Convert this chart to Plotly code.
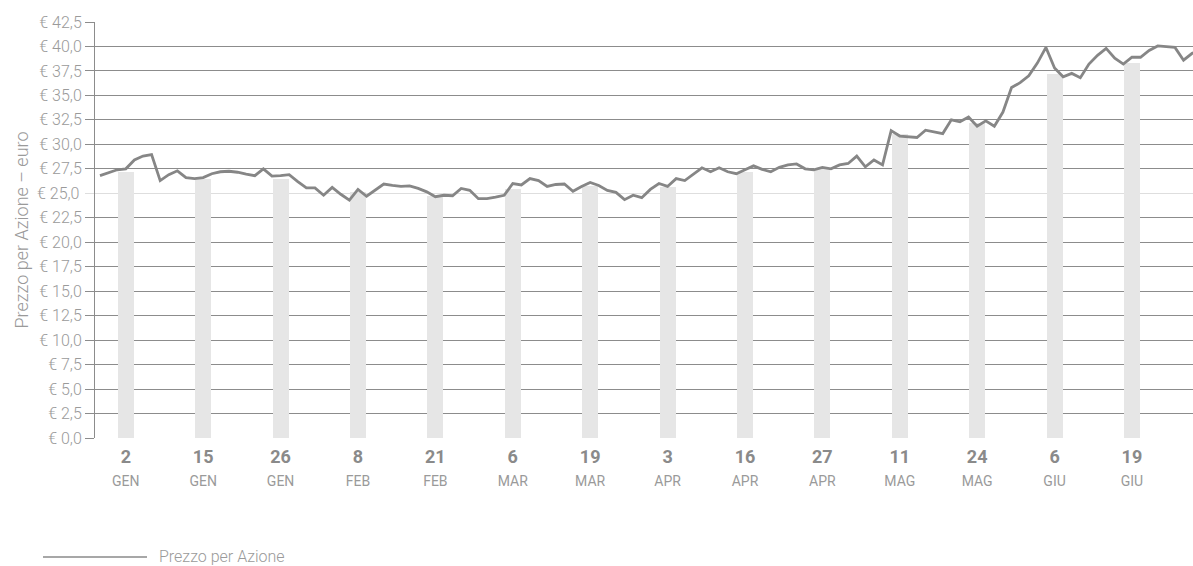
import pandas as pd
import plotly.graph_objects as go

# ---- data ----
holidays = ["2018-01-01", "2018-03-30", "2018-04-02", "2018-05-01"]
trade_dates = [d.strftime("%Y-%m-%d") for d in pd.bdate_range("2017-12-27", "2018-06-29", freq="C", holidays=holidays)]

price = [
    26.8, 27.1, 27.4, 27.5, 28.4, 28.8, 28.95, 26.3, 26.9, 27.3,
    26.6, 26.5, 26.6, 27.0, 27.2, 27.25, 27.15, 26.95, 26.8, 27.5,
    26.75, 26.8, 26.9, 26.2, 25.55, 25.55, 24.8, 25.6, 24.9, 24.3,
    25.4, 24.7, 25.3, 25.95, 25.8, 25.7, 25.75, 25.5, 25.15, 24.65,
    24.8, 24.75, 25.5, 25.3, 24.45, 24.45, 24.6, 24.8, 26.0, 25.85,
    26.5, 26.3, 25.7, 25.9, 25.95, 25.2, 25.7, 26.1, 25.8, 25.3,
    25.1, 24.35, 24.8, 24.55, 25.4, 26.0, 25.7, 26.5, 26.3, 26.95,
    27.6, 27.2, 27.6, 27.2, 27.0, 27.4, 27.8, 27.45, 27.2, 27.65,
    27.9, 28.0, 27.5, 27.4, 27.65, 27.5, 27.9, 28.05, 28.8, 27.7,
    28.4, 27.9, 31.4, 30.85, 30.8, 30.7, 31.45, 31.3, 31.1, 32.5,
    32.3, 32.8, 31.85, 32.4, 31.85, 33.3, 35.8, 36.3, 37.0, 38.3,
    39.9, 37.8, 36.9, 37.25, 36.8, 38.2, 39.1, 39.8, 38.8, 38.2,
    38.9, 38.9, 39.6, 40.05, 40.0, 39.9, 38.6, 39.3, 39.6,
]

bar_dates = ["2018-01-02", "2018-01-15", "2018-01-26", "2018-02-08", "2018-02-21",
             "2018-03-06", "2018-03-19", "2018-04-03", "2018-04-16", "2018-04-27",
             "2018-05-11", "2018-05-24", "2018-06-06", "2018-06-19"]
bar_values = [27.14, 26.5, 26.5, 25.1, 24.75, 25.47, 25.7, 25.64, 27.2, 27.6,
              31.1, 32.15, 37.15, 38.3]
tick_days = ["2", "15", "26", "8", "21", "6", "19", "3", "16", "27", "11", "24", "6", "19"]
tick_months = ["GEN", "GEN", "GEN", "FEB", "FEB", "MAR", "MAR", "APR", "APR", "APR",
               "MAG", "MAG", "GIU", "GIU"]
y_ticks = [0.0, 2.5, 5.0, 7.5, 10.0, 12.5, 15.0, 17.5, 20.0, 22.5, 25.0,
           27.5, 30.0, 32.5, 35.0, 37.5, 40.0, 42.5]
light_tick = 25.0

series_name = "Prezzo per Azione"
y_title = "Prezzo per Azione – euro"

# ---- styles ----
GRID = "#8c8c8c"
LIGHT = "#dedede"
TXT = "#9a9a9a"
FONT = "Roboto"

def euro(v):
    return "€ " + f"{v:.1f}".replace(".", ",")

major_vals = [v for v in y_ticks if v != light_tick]
major_text = [euro(v) for v in major_vals]

ticktext = [f"<b>{d}</b><br><span style='font-size:14px;color:{TXT}'>{m}</span>"
            for d, m in zip(tick_days, tick_months)]

fig = go.Figure()
fig.add_trace(go.Bar(x=bar_dates, y=bar_values, marker=dict(color="#e6e6e6", line=dict(width=0)),
                     width=1.86, showlegend=False, hoverinfo="skip"))
fig.add_trace(go.Scatter(x=trade_dates, y=price, mode="lines", name=series_name,
                         line=dict(color="#868686", width=2.8), showlegend=False))

# label for the lighter gridline
fig.add_annotation(xref="paper", yref="y", x=(81 - 95) / 1098, y=light_tick, xanchor="right",
                   yanchor="middle", text=euro(light_tick), showarrow=False,
                   font=dict(family=FONT, size=16, color=TXT, weight=300))

# legend-like key
fig.add_shape(type="line", xref="paper", yref="paper", x0=(43 - 95) / 1098, x1=(147 - 95) / 1098,
              y0=-0.286, y1=-0.286, line=dict(color="#8a8a8a", width=1.5))
fig.add_annotation(xref="paper", yref="paper", x=(157 - 95) / 1098, y=-0.286, xanchor="left",
                   yanchor="middle", text=series_name, showarrow=False,
                   font=dict(family=FONT, size=16, color=TXT, weight=300))

fig.update_layout(
    width=1193, height=566,
    margin=dict(l=95, r=0, t=22, b=128),
    plot_bgcolor="white", paper_bgcolor="white",
    bargap=0,
    font=dict(family=FONT, color=TXT),
    xaxis=dict(type="category", categoryorder="array", categoryarray=trade_dates,
               range=[-0.58, 127.1], tickmode="array", tickvals=bar_dates, ticktext=ticktext,
               tickfont=dict(family=FONT, size=18, color="#8a8a8a"),
               ticklabelstandoff=6,
               showgrid=False, showline=False, zeroline=False, ticks=""),
    yaxis=dict(range=[0, 42.5], tickmode="array", tickvals=major_vals, ticktext=major_text,
               showgrid=True, gridcolor=GRID, gridwidth=1, zeroline=False,
               showline=True, linecolor=GRID, linewidth=1,
               ticks="outside", ticklen=9, tickcolor=GRID,
               minor=dict(tickmode="array", tickvals=[light_tick], showgrid=True, gridcolor=LIGHT,
                          gridwidth=1, ticks="outside", ticklen=9, tickcolor=LIGHT),
               tickfont=dict(family=FONT, size=16, color=TXT, weight=300),
               title=dict(text=y_title, font=dict(family=FONT, size=18, color=TXT, weight=300), standoff=6)),
)

fig.write_html("out.html")
